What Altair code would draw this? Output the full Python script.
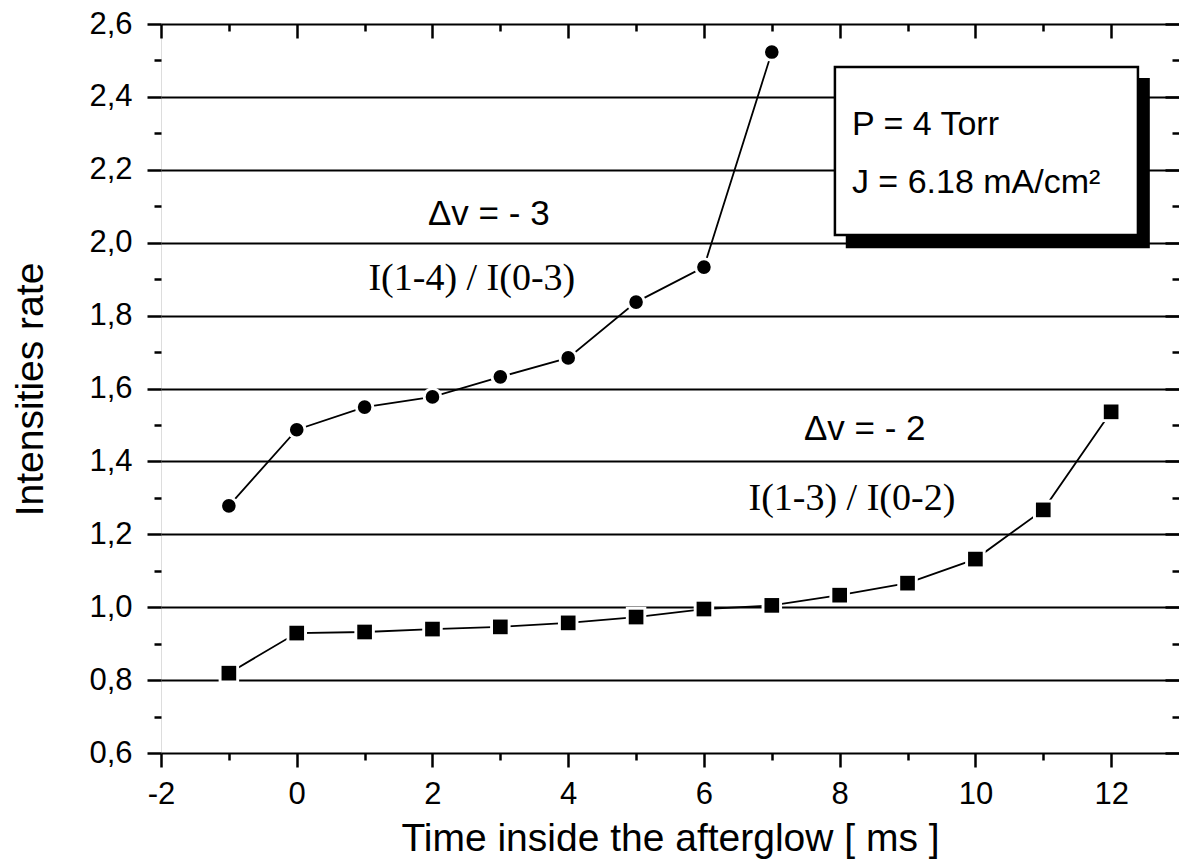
import altair as alt
import pandas as pd

# ---- data ----
t_circles = [-1, 0, 1, 2, 3, 4, 5, 6, 7]
v_circles = [1.278, 1.487, 1.549, 1.577, 1.632, 1.684, 1.837, 1.933, 2.523]
t_squares = [-1, 0, 1, 2, 3, 4, 5, 6, 7, 8, 9, 10, 11, 12]
v_squares = [0.819, 0.929, 0.932, 0.940, 0.946, 0.957, 0.973, 0.995, 1.005,
             1.033, 1.066, 1.132, 1.267, 1.536]

x_major = [-2, 0, 2, 4, 6, 8, 10, 12]
x_minor = [-1, 1, 3, 5, 7, 9, 11]
y_major = [0.6, 0.8, 1.0, 1.2, 1.4, 1.6, 1.8, 2.0, 2.2, 2.4, 2.6]
y_minor = [0.7, 0.9, 1.1, 1.3, 1.5, 1.7, 1.9, 2.1, 2.3, 2.5]

sans_notes = ["Δv = - 3", "Δv = - 2"]
sans_x = [2.83, 8.37]
sans_y = [2.049, 1.459]
serif_notes = ["I(1-4) / I(0-3)", "I(1-3) / I(0-2)"]
serif_x = [2.58, 8.18]
serif_y = [1.870, 1.267]

box_lines = ["P = 4 Torr", "J = 6.18 mA/cm²"]
box_text_x = [8.18, 8.18]
box_text_y = [2.2955, 2.136]
box_x = [7.93, 12.395]
box_y = [2.021, 2.482]
shadow_x = [8.09, 12.57]
shadow_y = [1.985, 2.452]

# ---- tables ----
df = pd.DataFrame({
    "t": t_circles + t_squares,
    "v": v_circles + v_squares,
    "s": ["c"] * len(t_circles) + ["s"] * len(t_squares),
})
dc = df[df.s == "c"]
dsq = df[df.s == "s"]
sans_df = pd.DataFrame({"x": sans_x, "y": sans_y, "txt": sans_notes})
serif_df = pd.DataFrame({"x": serif_x, "y": serif_y, "txt": serif_notes})
boxtxt_df = pd.DataFrame({"x": box_text_x, "y": box_text_y, "txt": box_lines})
box_df = pd.DataFrame({"x": [box_x[0]], "x2": [box_x[1]], "y": [box_y[0]], "y2": [box_y[1]]})
shadow_df = pd.DataFrame({"x": [shadow_x[0]], "x2": [shadow_x[1]], "y": [shadow_y[0]], "y2": [shadow_y[1]]})

W, H = 1018, 729
FONT = "Liberation Sans"
xs = alt.Scale(domain=[-2, 13], nice=False, zero=False)
ys = alt.Scale(domain=[0.6, 2.6], nice=False, zero=False)

common = dict(domain=False, tickColor="black", tickWidth=2.5, labelOverlap=False,
              labelFlush=False)

ax_bottom = alt.Axis(orient="bottom", values=x_major, tickSize=14, labelFont=FONT, labelFontSize=31,
                     labelColor="black", labelPadding=12,
                     labelExpr="datum.value < 0 ? '-' + (-datum.value) : '' + datum.value",
                     title="Time inside the afterglow [ ms ]", titleFont=FONT,
                     titleFontSize=39, titleFontWeight="normal", titleColor="black",
                     titleBaseline="alphabetic", titleY=97, grid=False, **common)
ax_left = alt.Axis(orient="left", values=y_major, tickSize=14, labelFont=FONT, labelFontSize=31,
                   labelColor="black", labelPadding=15,
                   labelExpr="replace(format(datum.value, '.1f'), '.', ',')",
                   grid=True, gridColor="black", gridWidth=2, gridOpacity=1,
                   title="Intensities rate", titleFont=FONT, titleFontSize=39,
                   titleFontWeight="normal", titleColor="black",
                   titleBaseline="alphabetic", titleX=-119, titleY=365, **common)
ax_bottom_minor = alt.Axis(orient="bottom", values=x_minor, tickSize=7, labels=False,
                           title=None, grid=False, **common)
ax_left_minor = alt.Axis(orient="left", values=y_minor, tickSize=7, labels=False,
                         title=None, grid=False, **common)
ax_top = alt.Axis(orient="bottom", offset=-H, values=x_major, tickSize=14, labels=False,
                  title=None, grid=False, **common)
ax_top_minor = alt.Axis(orient="bottom", offset=-H, values=x_minor, tickSize=7, labels=False,
                        title=None, grid=False, **common)
ax_right = alt.Axis(orient="left", offset=-W, values=y_major, tickSize=14, labels=False,
                    title=None, grid=False, **common)
ax_right_minor = alt.Axis(orient="left", offset=-W, values=y_minor, tickSize=7, labels=False,
                          title=None, grid=False, **common)


def enc(xax, yax):
    return dict(x=alt.X("t:Q", scale=xs, axis=xax), y=alt.Y("v:Q", scale=ys, axis=yax))


line = alt.Chart(df).mark_line(color="black", strokeWidth=1.8).encode(
    detail="s:N", **enc(ax_bottom, ax_left))
inv1 = alt.Chart(df).mark_point(opacity=0).encode(**enc(ax_bottom_minor, ax_left_minor))
inv2 = alt.Chart(df).mark_point(opacity=0).encode(**enc(ax_top, ax_right))
inv3 = alt.Chart(df).mark_point(opacity=0).encode(**enc(ax_top_minor, ax_right_minor))

halo_c = alt.Chart(dc).mark_point(shape="circle", filled=True, color="white", opacity=1,
                                  size=380).encode(**enc(None, None))
halo_s = alt.Chart(dsq).mark_point(shape="square", filled=True, color="white", opacity=1,
                                   size=420).encode(**enc(None, None))
pts_c = alt.Chart(dc).mark_point(shape="circle", filled=True, color="black", opacity=1,
                                 size=185).encode(**enc(None, None))
pts_s = alt.Chart(dsq).mark_point(shape="square", filled=True, color="black", opacity=1,
                                  size=215).encode(**enc(None, None))

shadow = alt.Chart(shadow_df).mark_rect(color="black").encode(
    x=alt.X("x:Q", scale=xs, axis=None), x2="x2:Q",
    y=alt.Y("y:Q", scale=ys, axis=None), y2="y2:Q")
box = alt.Chart(box_df).mark_rect(fill="white", stroke="black", strokeWidth=2.5).encode(
    x=alt.X("x:Q", scale=xs, axis=None), x2="x2:Q",
    y=alt.Y("y:Q", scale=ys, axis=None), y2="y2:Q")


def texts(d, font, size, align):
    return alt.Chart(d).mark_text(font=font, fontSize=size, align=align,
                                  baseline="alphabetic", color="black").encode(
        x=alt.X("x:Q", scale=xs, axis=None), y=alt.Y("y:Q", scale=ys, axis=None),
        text="txt:N")


t_sans = texts(sans_df, FONT, 35, "center")
t_serif = texts(serif_df, "Liberation Serif", 38, "center")
t_box = texts(boxtxt_df, FONT, 34, "left")

chart = alt.layer(
    line, inv1, inv2, inv3, shadow, box, halo_c, halo_s, pts_c, pts_s, t_sans, t_serif, t_box
).resolve_axis(x="independent", y="independent").properties(
    width=W, height=H,
    padding={"left": 161, "top": 24, "right": 0, "bottom": 108},
    autosize=alt.AutoSizeParams(type="none"),
).configure_view(stroke="black", strokeWidth=3).configure(background="white")

chart.save("out.html", embed_options={"renderer": "svg", "actions": False})
